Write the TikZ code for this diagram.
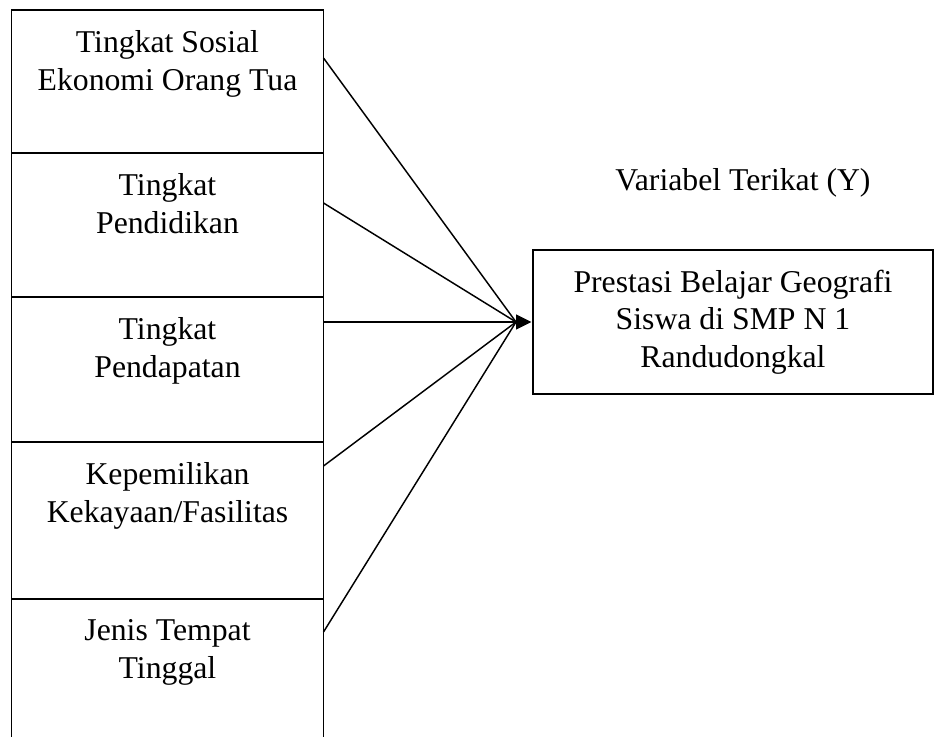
\documentclass[tikz,border=0pt]{standalone}
\usepackage{fontspec}
\setmainfont{Liberation Serif}
\usetikzlibrary{arrows.meta, positioning, calc}

\begin{document}
\begin{tikzpicture}[x=0.75pt, y=-0.75pt,
    kotak/.style={draw, line width=1.2pt, minimum width=234pt, outer sep=0pt, inner sep=0pt},
    teks/.style={align=center, inner sep=0pt, font=\fontsize{23.8}{28.3}\selectfont},
    garis/.style={line width=1.1pt}]
    \useasboundingbox (0,0) rectangle (934,737);
    \clip (0,0) rectangle (934,737);

    % Variabel bebas
    \node[kotak, minimum height=107.25pt, anchor=north west] (f1) at (11.5,10) {};
    \node[kotak, minimum height=108pt, below=0pt of f1] (f2) {};
    \node[kotak, minimum height=108.75pt, below=0pt of f2] (f3) {};
    \node[kotak, minimum height=117.75pt, below=0pt of f3] (f4) {};
    \node[kotak, minimum height=112.5pt, below=0pt of f4] (f5) {};

    \node[teks, below=15.5pt of f1.north] (t1) {Tingkat Sosial\\Ekonomi Orang Tua};
    \node[teks, below=15.5pt of f2.north] (t2) {Tingkat\\Pendidikan};
    \node[teks, below=15.5pt of f3.north] (t3) {Tingkat\\Pendapatan};
    \node[teks, below=15.5pt of f4.north] (t4) {Kepemilikan\\Kekayaan/Fasilitas};
    \node[teks, below=15.5pt of f5.north] (t5) {Jenis Tempat\\Tinggal};

    % Variabel terikat
    \node[teks] (judul) at (743,183) {Variabel Terikat (Y)};
    \node[kotak, teks, minimum width=300pt, minimum height=108pt, anchor=north west] (hasil) at (533,250)
        {Prestasi Belajar Geografi\\Siswa di SMP N 1\\Randudongkal};

    % Panah
    \coordinate (hub) at ($(hasil.west)+(-17,0)$);
    \coordinate (a1) at ($(f1.north east)+(0,48)$);
    \coordinate (a2) at ($(f2.north east)+(0,50)$);
    \coordinate (a4) at ($(f4.north east)+(0,24)$);
    \coordinate (a5) at ($(f5.north east)+(0,33)$);
    \coordinate (a3) at (f3.east |- hasil.west);
    \foreach \i in {1,2,4,5}
        \draw[garis] (a\i) -- (hub);
    \draw[garis, -{Triangle[length=11.5pt, width=11.25pt]}, shorten >=1.2pt] (a3) -- (hasil.west);

\end{tikzpicture}
\end{document}
